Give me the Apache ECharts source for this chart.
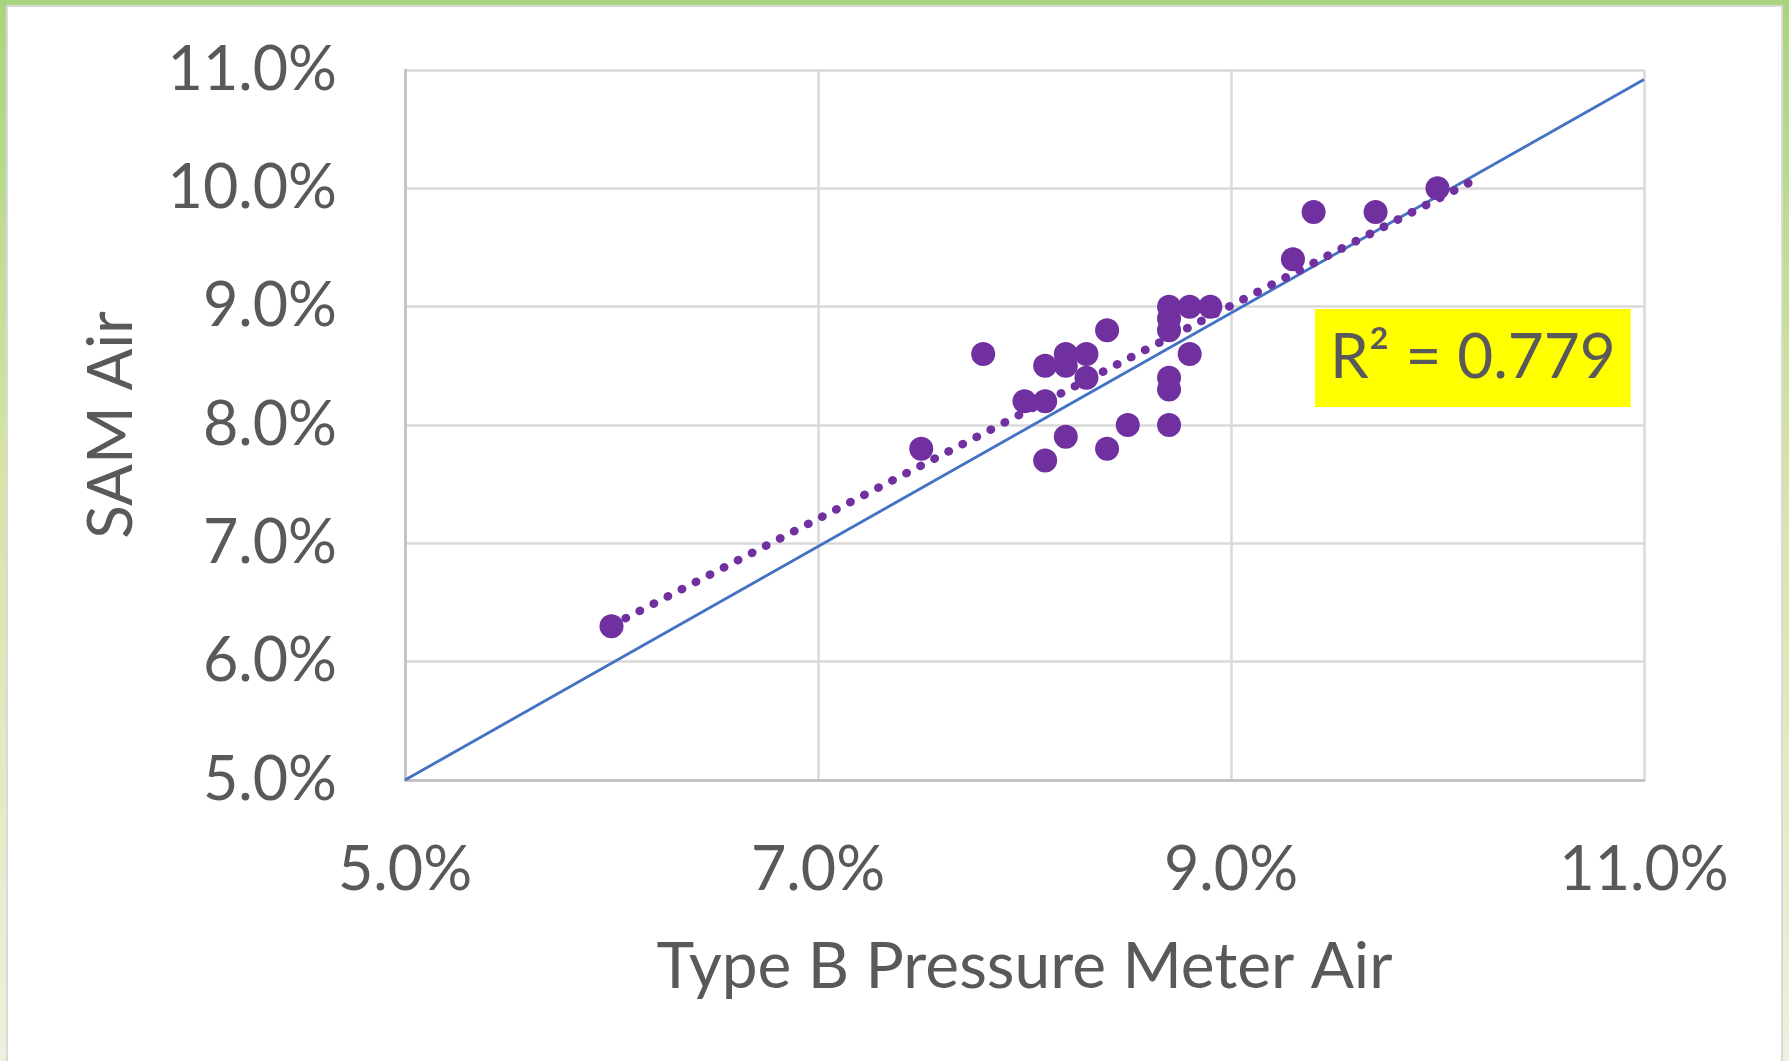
<!DOCTYPE html>
<html>
<head>
<meta charset="utf-8">
<script src="https://cdn.jsdelivr.net/npm/echarts@6/dist/echarts.min.js"></script>
<style>
  html, body { margin: 0; padding: 0; width: 1789px; height: 1061px; overflow: hidden; }
  body { background: linear-gradient(to bottom, #a9d47f 0%, #d6e4a6 45%, #f1efdf 100%); position: relative; }
  #frame { position: absolute; left: 6px; top: 5px; width: 1773px; height: 1070px; background: #ffffff; border: 2px solid #d9d9d9; }
  #chart { position: absolute; left: 0; top: 0; width: 1789px; height: 1061px; }
</style>
</head>
<body>
<div id="frame"></div>
<div id="chart"></div>
<script>
// Type B Pressure Meter Air (%) vs SAM Air (%)
const xValues = [6.0, 7.5, 7.8, 8.0, 8.1, 8.1, 8.2, 8.2, 8.3, 8.3, 8.4, 8.1, 8.2, 8.4, 8.5,
                 8.7, 8.7, 8.7, 8.7, 8.7, 8.7, 8.8, 8.9, 8.8, 9.3, 9.4, 9.7, 10.0];
const yValues = [6.3, 7.8, 8.6, 8.2, 8.2, 8.5, 8.6, 8.5, 8.6, 8.4, 8.8, 7.7, 7.9, 7.8, 8.0,
                 8.0, 8.3, 8.4, 8.8, 8.9, 9.0, 9.0, 9.0, 8.6, 9.4, 9.8, 9.8, 10.0];
// reference line (blue)
const refLineX = [5.0, 11.0];
const refLineY = [5.0, 10.92];
// trendline forward forecast
const trendForward = 0.18;
const xTicks = [5, 7, 9, 11];
const yTicks = [5, 6, 7, 8, 9, 10, 11];
const r2Label = 'R\u00B2 = 0.779';
const xTitle = 'Type B Pressure Meter Air';
const yTitle = 'SAM Air';

// linear regression for trendline
const n = xValues.length;
const mx = xValues.reduce((a, b) => a + b, 0) / n;
const my = yValues.reduce((a, b) => a + b, 0) / n;
let sxy = 0, sxx = 0;
for (let i = 0; i < n; i++) { sxy += (xValues[i] - mx) * (yValues[i] - my); sxx += (xValues[i] - mx) ** 2; }
const slope = sxy / sxx;
const intercept = my - slope * mx;
const tx0 = Math.min(...xValues), tx1 = Math.max(...xValues) + trendForward;
const trendData = [[tx0, intercept + slope * tx0], [tx1, intercept + slope * tx1]];

const scatterData = xValues.map((x, i) => [x, yValues[i]]);
const refData = refLineX.map((x, i) => [x, refLineY[i]]);

const FONT = 'Lato';
const TXT = '#595959';
const chart = echarts.init(document.getElementById('chart'), null, { renderer: 'canvas' });
chart.setOption({
  backgroundColor: 'transparent',
  animation: false,
  title: {
    text: r2Label,
    left: 1315, top: 309,
    backgroundColor: '#ffff00',
    padding: [0, 15],
    textStyle: { fontFamily: FONT, fontSize: 62, fontWeight: 'normal', color: TXT, lineHeight: 98 }
  },
  grid: { left: 405, right: 145, top: 70, bottom: 281, containLabel: false },
  xAxis: {
    type: 'value', min: xTicks[0], max: xTicks[xTicks.length - 1], interval: xTicks[1] - xTicks[0],
    name: xTitle, nameLocation: 'middle', nameGap: 187,
    nameTextStyle: { fontFamily: FONT, fontSize: 64, color: TXT, verticalAlign: 'middle' },
    axisLine: { show: true, lineStyle: { color: '#bfbfbf', width: 2.5 } },
    axisTick: { show: false },
    splitLine: { show: true, lineStyle: { color: '#d9d9d9', width: 2.5 } },
    axisLabel: { fontFamily: FONT, fontSize: 61, color: TXT, margin: 90, verticalAlign: 'middle',
      formatter: v => v.toFixed(1) + '%' }
  },
  yAxis: {
    type: 'value', min: yTicks[0], max: yTicks[yTicks.length - 1], interval: yTicks[1] - yTicks[0],
    name: yTitle, nameLocation: 'middle', nameGap: 293, nameRotate: 90,
    nameTextStyle: { fontFamily: FONT, fontSize: 62, color: TXT, verticalAlign: 'middle' },
    axisLine: { show: true, lineStyle: { color: '#bfbfbf', width: 2.5 } },
    axisTick: { show: false },
    splitLine: { show: true, lineStyle: { color: '#d9d9d9', width: 2.5 } },
    axisLabel: { fontFamily: FONT, fontSize: 61, color: TXT, margin: 68,
      formatter: v => v.toFixed(1) + '%' }
  },
  series: [
    {
      type: 'line', data: refData, showSymbol: false, silent: true,
      lineStyle: { color: '#4472c4', width: 2.8 }, z: 2
    },
    {
      type: 'line', data: trendData, showSymbol: false, silent: true,
      lineStyle: { color: '#7030a0', width: 8.5, type: [0.5, 15.3], cap: 'round' }, z: 3
    },
    {
      type: 'scatter', data: scatterData, symbol: 'circle', symbolSize: 24,
      itemStyle: { color: '#7030a0', opacity: 1 }, z: 4
    }
  ]
});
</script>
</body>
</html>
